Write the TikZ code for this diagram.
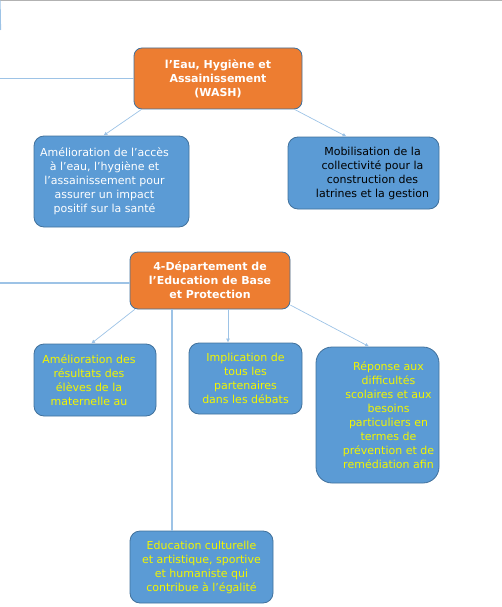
\documentclass[tikz,border=0pt]{standalone}
\usepackage{fontspec}
\setmainfont{DejaVu Sans}
\usetikzlibrary{arrows.meta}
\usetikzlibrary{calc}

\definecolor{washorange}{HTML}{ED7D31}
\definecolor{boxblue}{HTML}{5B9BD5}
\definecolor{boxedge}{HTML}{41719C}
\definecolor{linkblue}{HTML}{9DC3E6}
\definecolor{textyellow}{HTML}{F2F500}

\tikzset{
  box/.style={draw=boxedge, line width=0.8pt, rounded corners=10pt, inner sep=0pt,
    align=center, font=\fontsize{11}{14}\selectfont},
  head/.style={box, fill=washorange, text=white, rounded corners=8pt,
    font=\fontsize{11}{14}\selectfont\bfseries},
  leaf/.style={box, fill=boxblue},
  link/.style={draw=linkblue, line width=0.7pt, -{Latex[length=4pt,width=4pt]}},
  trunk/.style={draw=linkblue, line width=1.2pt}
}

% shift a line sideways (#1 = twice the shift)
\newcommand{\pr}[1]{\hspace*{#1}}

\begin{document}
\begin{tikzpicture}[x=1pt, y=-1pt]
      \useasboundingbox (0,0) rectangle (502,607);

      % frame remains at the top edge
      \coordinate (tl) at (0,0.5);
      \coordinate (tr) at (502,0.5);
      \coordinate (vl) at (0.5,30);
      \draw[gray!60, line width=1.2pt] (tl) -- (tr);
      \draw[trunk] (tl) -- (vl);

      % WASH
      \node[head, minimum width=168pt, minimum height=61pt] (wash) at (218, 78.5)
        {l’Eau, Hygiène et\\Assainissement\\(WASH)};
      \node[leaf, text=white, minimum width=155pt, minimum height=91pt] (acces) at (111.5, 181.5)
        {\pr{-14pt}Amélioration de l’accès\\\pr{-14pt}à l’eau, l’hygiène et\\\pr{-14pt}l’assainissement pour\\\pr{-14pt}assurer un impact\\\pr{-14pt}positif sur la santé};
      \node[leaf, text=black, minimum width=151pt, minimum height=72pt] (mobil) at (363.5, 173)
        {\pr{18pt}Mobilisation de la\\\pr{18pt}collectivité pour la\\\pr{18pt}construction des\\\pr{18pt}latrines et la gestion};

      % departement
      \node[head, minimum width=160pt, minimum height=57pt] (dept) at (210, 280.5)
        {4-Département de\\l’Education de Base\\et Protection};
      \node[leaf, text=textyellow, minimum width=122pt, minimum height=72pt] (resultats) at (95, 380)
        {\pr{-12pt}Amélioration des\\\pr{-12pt}résultats des\\\pr{-12pt}élèves de la\\\pr{-12pt}maternelle au};
      \node[leaf, text=textyellow, minimum width=113pt, minimum height=71pt] (implic) at (245.5, 378.5)
        {Implication de\\tous les\\partenaires\\dans les débats};
      \node[leaf, text=textyellow, rounded corners=16pt, minimum width=123pt, minimum height=136pt] (reponse) at (377.5, 415)
        {\pr{22pt}Réponse aux\\\pr{22pt}difficultés\\\pr{22pt}scolaires et aux\\\pr{22pt}besoins\\\pr{22pt}particuliers en\\\pr{22pt}termes de\\\pr{22pt}prévention et de\\\pr{22pt}remédiation afin};
      \node[leaf, text=textyellow, minimum width=143pt, minimum height=72pt] (culture) at (201.5, 567)
        {Education culturelle\\et artistique, sportive\\et humaniste qui\\contribue à l’égalité};

      \coordinate (lw) at (0, 78.5);
      \coordinate (ld) at (0, 283);
      \draw[trunk] (lw) -- (wash.west);
      \draw[trunk] (ld) -- (ld -| dept.west);

      \draw[link] (wash.202) -- (acces.100);
      \draw[link] (wash.-22) -- (mobil.115);
      \draw[link] (dept.201) -- (resultats.96);
      \draw[link] (implic.116 |- dept.south) -- (implic.116);
      \draw[link] (dept.-17) -- (reponse.97);
      \draw[trunk] (culture.129 |- dept.south) -- (culture.129);
    \end{tikzpicture}
\end{document}
